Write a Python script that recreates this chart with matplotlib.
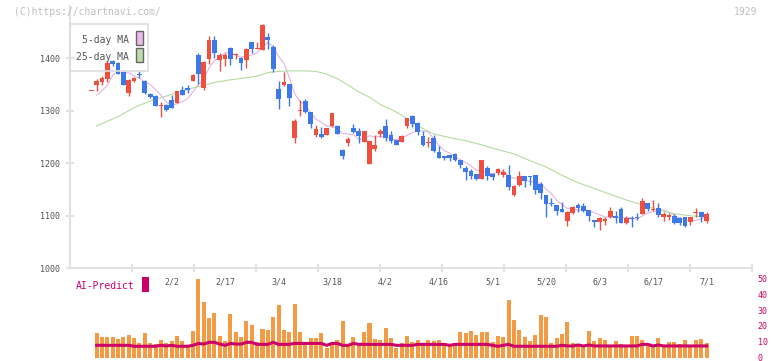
import numpy as np
import pandas as pd
import matplotlib
matplotlib.use("Agg")
import matplotlib.pyplot as plt
from matplotlib.patches import Rectangle
from matplotlib.transforms import blended_transform_factory

plt.rcParams['font.family'] = ['DejaVu Sans Mono']

# ---- datos ----
opens = [1338, 1349, 1355, 1361, 1395, 1392, 1373, 1334, 1357, 1370,
         1357, 1332, 1328, 1309, 1311, 1321, 1315, 1340, 1343, 1357,
         1407, 1344, 1398, 1435, 1397, 1398, 1419, 1406, 1400, 1396,
         1431, 1418, 1415, 1440, 1421, 1341, 1350, 1351, 1249, 1299,
         1319, 1298, 1253, 1256, 1254, 1271, 1271, 1225, 1239, 1268,
         1262, 1241, 1199, 1227, 1256, 1271, 1253, 1244, 1241, 1271,
         1290, 1277, 1252, 1238, 1248, 1222, 1213, 1215, 1218, 1206,
         1192, 1185, 1179, 1170, 1191, 1180, 1182, 1178, 1178, 1140,
         1159, 1176, 1176, 1178, 1161, 1140, 1124, 1121, 1113, 1091,
         1106, 1121, 1119, 1111, 1092, 1089, 1091, 1098, 1100, 1113,
         1087, 1096, 1098, 1103, 1125, 1111, 1114, 1098, 1098, 1100,
         1095, 1097, 1089, 1105, 1107, 1091]
highs = [1338, 1360, 1366, 1395, 1397, 1393, 1378, 1360, 1365, 1375,
         1359, 1334, 1330, 1317, 1313, 1330, 1338, 1348, 1349, 1371,
         1410, 1395, 1443, 1443, 1410, 1410, 1421, 1411, 1402, 1419,
         1431, 1431, 1465, 1449, 1425, 1357, 1373, 1351, 1284, 1321,
         1322, 1298, 1273, 1269, 1267, 1296, 1273, 1228, 1251, 1274,
         1268, 1262, 1243, 1254, 1265, 1284, 1262, 1245, 1253, 1287,
         1292, 1279, 1262, 1250, 1254, 1233, 1214, 1215, 1219, 1206,
         1195, 1189, 1180, 1206, 1194, 1182, 1191, 1189, 1197, 1159,
         1185, 1176, 1176, 1178, 1165, 1140, 1133, 1121, 1127, 1109,
         1119, 1125, 1125, 1111, 1092, 1098, 1098, 1116, 1109, 1116,
         1100, 1100, 1105, 1133, 1125, 1131, 1125, 1107, 1105, 1103,
         1098, 1098, 1098, 1114, 1108, 1108]
lows = [1338, 1338, 1349, 1354, 1386, 1370, 1349, 1329, 1354, 1362,
        1332, 1325, 1309, 1289, 1300, 1305, 1314, 1330, 1333, 1356,
        1352, 1340, 1389, 1400, 1375, 1385, 1387, 1398, 1377, 1381,
        1411, 1418, 1415, 1417, 1373, 1304, 1348, 1310, 1239, 1291,
        1296, 1268, 1251, 1248, 1254, 1269, 1255, 1209, 1233, 1257,
        1239, 1241, 1199, 1223, 1250, 1243, 1239, 1234, 1240, 1268,
        1269, 1254, 1233, 1231, 1221, 1211, 1206, 1205, 1205, 1192,
        1168, 1170, 1168, 1170, 1168, 1168, 1178, 1173, 1149, 1138,
        1157, 1155, 1159, 1141, 1132, 1098, 1119, 1102, 1107, 1081,
        1103, 1107, 1108, 1091, 1078, 1073, 1083, 1095, 1087, 1087,
        1084, 1079, 1092, 1103, 1110, 1110, 1098, 1091, 1092, 1084,
        1083, 1079, 1083, 1098, 1089, 1087]
closes = [1338.5, 1357, 1363, 1392, 1389, 1371, 1350, 1359, 1363, 1368,
          1334, 1327, 1310, 1311, 1302, 1305, 1338, 1331, 1340, 1369,
          1370, 1393, 1435, 1410, 1406, 1407, 1398, 1408, 1392, 1417,
          1417, 1418.5, 1463, 1434, 1380, 1323, 1355, 1325, 1281, 1302,
          1298, 1274, 1265, 1250, 1267, 1296, 1256, 1214, 1246, 1260,
          1252, 1262, 1243, 1235, 1262, 1249, 1243, 1235, 1252, 1287,
          1275, 1260, 1235, 1241, 1223, 1211, 1210, 1211, 1206, 1197,
          1184, 1175, 1171, 1206, 1175, 1173, 1189, 1184, 1154, 1157,
          1176, 1166, 1174, 1149, 1143, 1123, 1122, 1110, 1108, 1108,
          1116, 1115, 1110, 1100, 1089, 1096, 1094, 1109, 1096, 1087,
          1096, 1093, 1095, 1128, 1112, 1113, 1102, 1103, 1101, 1086,
          1086, 1081, 1097, 1108, 1098, 1103]

# primeros valores de la media de 5 dias (antes de tener 5 cierres)
ma5_inicio = [np.nan, 1330, 1338, 1349]

# media de 25 dias
ma25_idx = [1, 3, 5, 8, 11, 14, 17, 20, 23, 26, 29, 31, 33, 35, 37, 40, 42,
            44, 46, 48, 50, 52, 54, 56, 58, 60, 62, 64, 67, 70, 73, 76, 79,
            82, 85, 88, 91, 94, 97, 100, 103, 106, 109, 112, 115]
ma25_val = [1271, 1280, 1289, 1306, 1319, 1328, 1338, 1346, 1354, 1359,
            1363, 1366, 1373, 1375, 1376, 1376, 1375, 1370, 1361, 1349,
            1336, 1326, 1312, 1303, 1292, 1278, 1266, 1256, 1249, 1243,
            1235, 1226, 1218, 1205, 1193, 1177, 1163, 1152, 1141, 1130,
            1121, 1111, 1104, 1100, 1098]

# volumen (escala 0-50) y AI-Predict, desde la vela 1
volumen = [15.5, 13.0, 13.0, 13.0, 11.8, 13.0, 14.3, 12.4, 9.2, 15.5,
           9.2, 8.6, 11.1, 9.2, 10.5, 13.6, 10.5, 6.7, 16.8, 49.5,
           35.0, 25.0, 28.1, 13.6, 10.5, 27.5, 16.2, 13.0, 23.1, 20.6,
           9.9, 18.1, 17.4, 25.6, 33.1, 17.4, 16.2, 33.8, 16.2, 9.9,
           12.4, 12.4, 15.5, 6.1, 8.6, 11.1, 23.1, 8.0, 13.0, 9.2,
           16.2, 21.8, 11.8, 11.1, 18.7, 12.4, 6.1, 9.2, 13.6, 9.9,
           11.1, 9.2, 11.1, 10.5, 11.1, 8.6, 7.4, 8.6, 16.2, 15.5,
           16.8, 14.3, 16.2, 16.2, 9.9, 13.6, 13.0, 36.3, 23.7, 17.4,
           13.0, 10.5, 14.3, 26.9, 25.6, 9.2, 12.4, 14.9, 22.5, 9.2,
           8.0, 7.4, 16.8, 10.5, 12.4, 11.1, 7.4, 10.5, 8.6, 6.7,
           13.6, 13.6, 11.1, 7.4, 8.0, 12.4, 7.4, 9.9, 9.9, 8.6,
           11.1, 8.0, 11.1, 11.8, 9.2]
ai_predict = [7.8, 7.8, 7.8, 7.8, 7.8, 7.8, 7.8, 7.2, 7.2, 7.2,
              7.2, 7.2, 7.8, 7.4, 7.8, 7.2, 7.2, 7.2, 7.8, 9.0,
              8.6, 9.7, 9.7, 8.6, 7.8, 9.0, 8.6, 8.6, 9.7, 9.7,
              8.4, 8.4, 8.4, 9.7, 8.4, 8.4, 8.4, 9.0, 9.0, 9.0,
              9.0, 9.0, 9.0, 7.8, 9.0, 9.0, 7.8, 7.8, 9.0, 8.4,
              8.4, 8.4, 8.4, 8.4, 8.4, 8.4, 7.8, 7.8, 7.8, 7.8,
              8.4, 8.4, 8.4, 8.4, 8.4, 8.4, 7.8, 8.4, 8.4, 8.4,
              8.4, 8.4, 8.4, 8.4, 7.8, 7.2, 7.8, 8.4, 7.2, 7.2,
              7.2, 7.2, 7.2, 7.2, 7.2, 7.2, 7.2, 7.8, 7.4, 7.4,
              8.0, 7.4, 8.0, 7.4, 7.4, 7.4, 7.4, 7.4, 7.4, 7.4,
              7.4, 7.4, 8.4, 8.4, 7.4, 8.0, 7.4, 7.4, 7.4, 7.4,
              7.4, 7.4, 7.4, 7.4, 7.4]

fechas = ["2/2", "2/17", "3/4", "3/18", "4/2", "4/16", "5/1", "5/20",
          "6/3", "6/17", "7/1"]
fechas_idx = [15, 25, 35, 45, 55, 65, 75, 85, 95, 105, 115]

ROJO = "#f04e3e"
AZUL = "#3d78e8"
GRIS = "#e2e2e2"
TEXTO = "#555555"
MAGENTA = "#cc0066"

# ---- figura ----
fig = plt.figure(figsize=(7.72, 3.61), dpi=100)
ax = fig.add_axes([0.0907, 0.2568, 0.8834, 0.7271])
ax2 = fig.add_axes([0.0907, 0.0091, 0.8834, 0.2200])

n = len(closes)
x = np.arange(n)
o = np.array(opens, dtype=float)
c = np.array(closes, dtype=float)
colores = [ROJO if cc >= oo else AZUL for oo, cc in zip(o, c)]

# velas
ax.vlines(x, lows, highs, colors=colores, linewidth=1.0, zorder=3)
alto = np.maximum(np.abs(c - o), 2.0)
ax.bar(x, alto, bottom=np.minimum(o, c), width=0.88, color=colores,
       linewidth=0, zorder=4)

# medias moviles
ma5 = pd.Series(c).rolling(5).mean().values
ma5[:4] = ma5_inicio
ax.plot(x, ma5, color="#e6b2e6", linewidth=0.8, zorder=2)
ax.plot(ma25_idx, ma25_val, color="#b5dba3", linewidth=0.8, zorder=2)

xmin, xmax = -3.98, 123.5
ax.set_xlim(xmin, xmax)
ax.set_ylim(1000, 1500)
for s in ["top", "right"]:
    ax.spines[s].set_visible(False)
for s in ["left", "bottom"]:
    ax.spines[s].set_color(GRIS)
    ax.spines[s].set_linewidth(1.5)
ax.set_yticks([1000, 1100, 1200, 1300, 1400])
ax.tick_params(axis="y", direction="inout", length=6, width=1.5,
               color=GRIS, labelcolor=TEXTO, labelsize=6, pad=4)
paso = 62 / 5.35
ax.set_xticks([xmin + paso * k for k in range(1, 12)])
ax.set_xticklabels([])
ax.tick_params(axis="x", direction="inout", length=6, width=1.5, color=GRIS)

# etiquetas de fecha
tr = blended_transform_factory(ax.transData, fig.transFigure)
for f, i in zip(fechas, fechas_idx):
    ax.text(i, 0.219, f, transform=tr, ha="center", va="center",
            fontsize=6, color=TEXTO, clip_on=False)

# leyenda MA
fig.add_artist(Rectangle((0.0907, 0.8033), 0.101, 0.130,
                         transform=fig.transFigure, facecolor="none",
                         edgecolor="#dddddd", linewidth=1.2, zorder=1))
fig.text(0.1671, 0.889, "5-day MA", ha="right", va="center",
         fontsize=7, color=TEXTO, zorder=6)
fig.text(0.1671, 0.842, "25-day MA", ha="right", va="center",
         fontsize=7, color=TEXTO, zorder=6)
fig.add_artist(Rectangle((0.1762, 0.8753), 0.0091, 0.0388,
                         transform=fig.transFigure, facecolor="#ebbbeb",
                         edgecolor="#666666", linewidth=1.0, zorder=6))
fig.add_artist(Rectangle((0.1762, 0.8283), 0.0091, 0.0388,
                         transform=fig.transFigure, facecolor="#bcdcae",
                         edgecolor="#666666", linewidth=1.0, zorder=6))

# textos superiores
fig.text(0.018, 0.967, "(C)https://chartnavi.com/", ha="left",
         va="center", fontsize=7, color="#c0c0c0")
fig.text(0.981, 0.967, "1929", ha="right", va="center",
         fontsize=7, color="#c0c0c0")

# panel inferior
xv = x[1:]
ax2.bar(xv, volumen, width=0.75, color="#f29a44", linewidth=0, zorder=2)
ax2.plot(xv, ai_predict, color=MAGENTA, linewidth=2.2, zorder=3)
ax2.set_xlim(xmin, xmax)
ax2.set_ylim(0, 50)
for s in ax2.spines.values():
    s.set_visible(False)
ax2.set_xticks([])
ax2.yaxis.tick_right()
ax2.set_yticks([0, 10, 20, 30, 40, 50])
ax2.tick_params(axis="y", length=0, labelcolor=MAGENTA, labelsize=6, pad=4)
ax2.patch.set_alpha(0)

fig.text(0.0984, 0.2078, "AI-Predict", ha="left", va="center",
         fontsize=7, color=MAGENTA)
fig.add_artist(Rectangle((0.1839, 0.1911), 0.0091, 0.0416,
                         transform=fig.transFigure, facecolor=MAGENTA,
                         edgecolor="none"))

fig.savefig("out.png", dpi=100)
